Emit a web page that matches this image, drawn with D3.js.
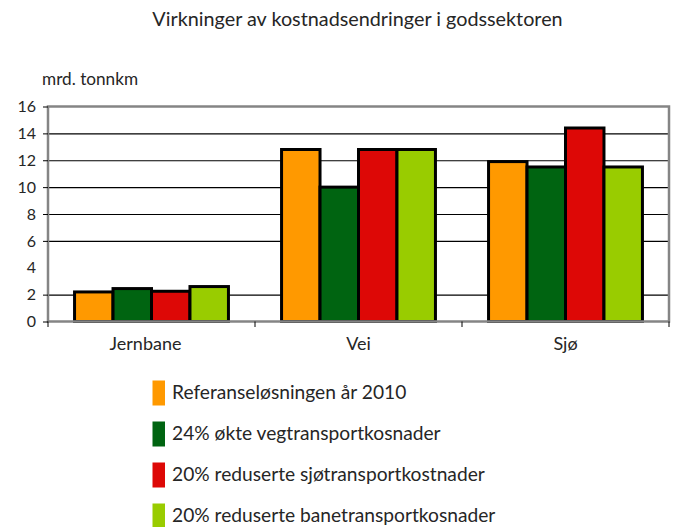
<!DOCTYPE html>
<html>
<head>
<meta charset="utf-8">
<script src="https://cdn.jsdelivr.net/npm/d3@7/dist/d3.min.js"></script>
<style>
  html, body { margin: 0; padding: 0; background: #fff; }
  svg { display: block; font-family: Lato, "Open Sans", sans-serif; }
</style>
</head>
<body>
<svg id="chart" width="676" height="527"></svg>
<script>
// Data: freight transport volumes (bn tonne-km) per mode under four scenarios
const categories = ["Jernbane", "Vei", "Sjø"];
const seriesNames = [
  "Referanseløsningen år 2010",
  "24% økte vegtransportkosnader",
  "20% reduserte sjøtransportkostnader",
  "20% reduserte banetransportkosnader"
];
const referanse   = [2.2, 12.8, 11.9];
const vegKost     = [2.45, 10.0, 11.5];
const sjoKost     = [2.25, 12.8, 14.4];
const baneKost    = [2.6, 12.8, 11.5];
const seriesValues = [referanse, vegKost, sjoKost, baneKost];
const seriesColors = ["#FF9900", "#006411", "#DD0806", "#99CC00"];
const yTicks = [0, 2, 4, 6, 8, 10, 12, 14, 16];
const gridValues = [2, 6, 8, 10, 12, 14];
const titleText = "Virkninger av kostnadsendringer i godssektoren";
const unitText = "mrd. tonnkm";

const svg = d3.select("#chart");
const textColor = "#262626";

const plot = { left: 48, right: 669, top: 106.5, bottom: 321.5 };

const x0 = d3.scaleBand().domain(categories).range([plot.left, plot.right]).padding(0);
const x1 = d3.scaleBand().domain(d3.range(seriesNames.length))
  .range([0, x0.bandwidth()]).paddingInner(0).paddingOuter(0.69);
const y = d3.scaleLinear().domain([0, 16]).range([plot.bottom, plot.top]);

// Title
svg.append("text")
  .attr("x", 357.5).attr("y", 26)
  .attr("text-anchor", "middle")
  .attr("font-size", 19.8)
  .attr("fill", textColor)
  .text(titleText);

// Unit label
svg.append("text")
  .attr("x", 42).attr("y", 85)
  .attr("font-size", 17.2)
  .attr("fill", textColor)
  .text(unitText);

// Horizontal gridlines
const grid = svg.append("g")
  .attr("transform", `translate(${plot.left},0)`)
  .call(d3.axisLeft(y).tickValues(gridValues).tickSize(-(plot.right - plot.left)).tickFormat(""));
grid.select(".domain").remove();
grid.selectAll(".tick line").attr("stroke", "#000").attr("stroke-width", 1.2);

// Bars
const groups = svg.append("g").selectAll("g")
  .data(categories)
  .join("g")
  .attr("transform", d => `translate(${x0(d)},0)`);

groups.selectAll("rect")
  .data((c, ci) => seriesValues.map((vals, si) => ({ si, v: vals[ci] })))
  .join("rect")
  .attr("x", d => x1(d.si))
  .attr("width", x1.bandwidth())
  .attr("y", d => y(d.v))
  .attr("height", d => y(0) - y(d.v))
  .attr("fill", d => seriesColors[d.si])
  .attr("stroke", "#000")
  .attr("stroke-width", 3);

// Plot area frame
svg.append("rect")
  .attr("x", plot.left).attr("y", plot.top)
  .attr("width", plot.right - plot.left)
  .attr("height", plot.bottom - plot.top)
  .attr("fill", "none")
  .attr("stroke", "#858585")
  .attr("stroke-width", 2.5);

// Y axis
const yAxis = svg.append("g")
  .attr("transform", `translate(${plot.left},0)`)
  .call(d3.axisLeft(y).tickValues(yTicks).tickSize(5).tickPadding(7).tickFormat(d3.format("d")));
yAxis.select(".domain").remove();
yAxis.selectAll(".tick line")
  .attr("stroke", "#000")
  .attr("display", d => gridValues.includes(d) || d === 0 || d === 16 ? null : "none");
yAxis.selectAll(".tick text")
  .attr("font-size", 16)
  .attr("font-family", "Lato, sans-serif")
  .attr("fill", textColor);

// X axis: category labels
const xAxis = svg.append("g")
  .attr("transform", `translate(0,${plot.bottom})`)
  .call(d3.axisBottom(x0).tickSize(0).tickPadding(16));
xAxis.select(".domain").remove();
xAxis.selectAll(".tick text")
  .attr("font-size", 18)
  .attr("font-family", "Lato, sans-serif")
  .attr("fill", textColor)
  .attr("dx", (d, i) => (i === 0 ? -6 : 0));

// X axis: tick marks at category boundaries
const boundaries = categories.map(c => x0(c)).concat([x0(categories[categories.length - 1]) + x0.bandwidth()]);
svg.append("g").selectAll("line")
  .data(boundaries)
  .join("line")
  .attr("x1", d => d).attr("x2", d => d)
  .attr("y1", plot.bottom).attr("y2", plot.bottom + 5.5)
  .attr("stroke", "#000");

// Legend
const legend = svg.append("g").selectAll("g")
  .data(seriesNames)
  .join("g")
  .attr("transform", (d, i) => `translate(152.5,${380.5 + i * 41})`);
legend.append("rect")
  .attr("width", 12.5).attr("height", 25)
  .attr("fill", (d, i) => seriesColors[i]);
legend.append("text")
  .attr("x", 19.5).attr("y", 18.5)
  .attr("font-size", 19.2)
  .attr("fill", textColor)
  .text(d => d);
</script>
</body>
</html>
